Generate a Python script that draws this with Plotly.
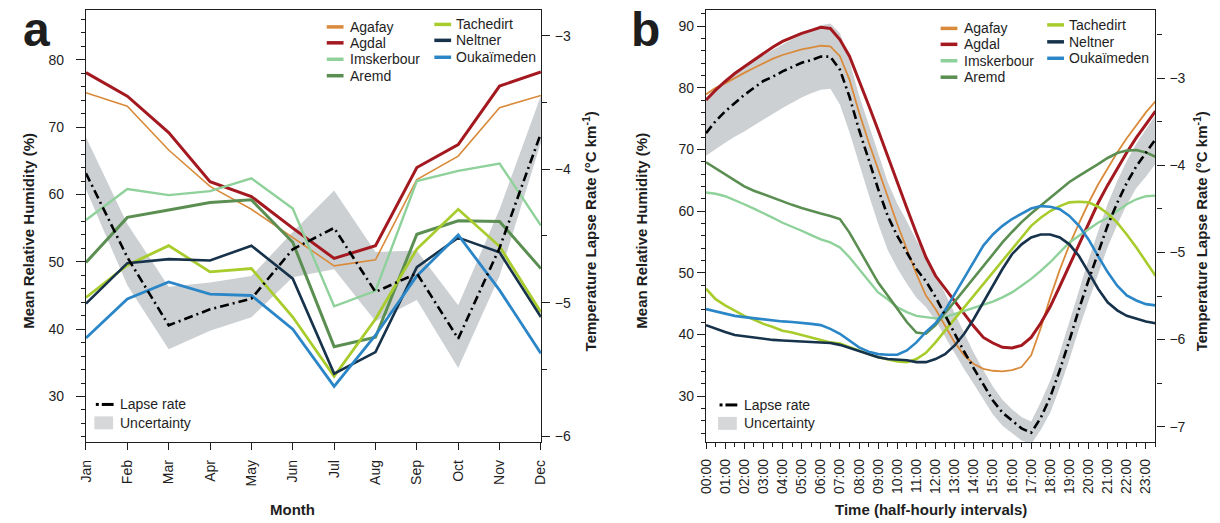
import plotly.graph_objects as go

W, H = 1220, 523

# ---------------- panel a: monthly means ----------------
months = ["Jan", "Feb", "Mar", "Apr", "May", "Jun",
          "Jul", "Aug", "Sep", "Oct", "Nov", "Dec"]
month_pos = list(range(12))

agafay_month = [75.1, 73.1, 66.6, 61.2, 57.8, 53.6, 49.4, 50.3, 62.2, 65.7, 72.9, 74.7]
agdal_month = [78.1, 74.6, 69.2, 61.9, 59.7, 55.0, 50.5, 52.4, 64.0, 67.4, 76.1, 78.2]
imskerbour_month = [56.2, 60.8, 59.9, 60.5, 62.4, 57.9, 43.4, 45.7, 62.0, 63.5, 64.6, 55.4]
aremd_month = [49.9, 56.6, 57.7, 58.8, 59.2, 52.9, 37.4, 38.8, 54.1, 56.1, 56.0, 49.0]
tachedirt_month = [44.7, 49.5, 52.4, 48.5, 49.0, 41.8, 33.0, 41.5, 51.9, 57.8, 52.3, 42.5]
neltner_month = [43.8, 49.8, 50.4, 50.2, 52.4, 47.5, 33.4, 36.6, 49.2, 53.6, 51.4, 41.8]
oukaimeden_month = [38.7, 44.5, 47.0, 45.2, 45.0, 40.0, 31.5, 39.1, 47.9, 54.0, 45.8, 36.4]

lapse_month = [-4.03, -4.66, -5.17, -5.05, -4.97, -4.60, -4.44, -4.92, -4.78, -5.27, -4.59, -3.73]
lapse_month_upper = [-3.76, -4.41, -4.88, -4.85, -4.80, -4.47, -4.16, -4.62, -4.61, -5.02, -4.30, -3.45]
lapse_month_lower = [-4.15, -4.87, -5.35, -5.21, -5.11, -4.81, -4.75, -5.14, -4.98, -5.49, -4.80, -3.80]

# ---------------- panel b: half-hourly means ----------------
hours = [i * 0.5 for i in range(48)]
hour_ticks = list(range(24))
hour_labels = ["%02d:00" % h for h in hour_ticks]

agafay_hour = [78.9, 80.0, 80.7, 81.6, 82.4, 83.2, 84.0, 84.7, 85.3, 85.8, 86.2, 86.5,
               86.8, 86.7, 85.1, 81.3, 76.0, 71.2, 66.7, 62.2, 57.9, 53.8, 49.8, 46.3,
               44.1, 41.4, 38.7, 36.6, 35.2, 34.4, 34.1, 34.0, 34.2, 34.7, 36.6, 41.0,
               46.0, 50.5, 54.5, 58.0, 61.3, 64.3, 67.0, 69.5, 71.8, 74.0, 76.0, 77.8]
agdal_hour = [78.0, 79.6, 81.0, 82.3, 83.4, 84.5, 85.6, 86.6, 87.5, 88.2, 88.8, 89.3,
              89.8, 89.6, 87.8, 85.1, 81.3, 77.2, 73.1, 68.8, 64.6, 60.5, 56.4, 52.5,
              49.5, 47.4, 45.3, 43.3, 41.3, 39.5, 38.6, 37.9, 37.8, 38.2, 39.5, 41.8,
              44.5, 47.8, 51.2, 54.6, 58.0, 61.3, 64.2, 66.9, 69.5, 71.9, 74.1, 76.2]
imskerbour_hour = [63.0, 62.8, 62.4, 61.8, 61.1, 60.4, 59.7, 58.9, 58.1, 57.5, 56.8, 56.1,
                   55.4, 54.9, 54.1, 52.5, 50.6, 48.7, 46.8, 45.7, 44.4, 43.6, 43.0, 42.8,
                   42.6, 42.8, 43.3, 43.9, 44.3, 44.8, 45.3, 46.0, 46.8, 47.9, 49.0, 50.3,
                   51.7, 53.3, 54.9, 56.0, 57.0, 58.1, 58.9, 60.0, 61.1, 61.9, 62.4, 62.5]
aremd_hour = [67.9, 66.9, 65.9, 64.9, 64.0, 63.3, 62.7, 62.1, 61.6, 61.0, 60.5, 60.0,
              59.6, 59.2, 58.7, 56.5, 53.8, 51.1, 48.4, 46.3, 44.1, 42.0, 40.3, 40.1,
              41.5, 43.5, 45.3, 47.2, 49.2, 51.1, 53.0, 54.9, 56.6, 58.2, 59.6, 60.9,
              62.2, 63.5, 64.7, 65.7, 66.6, 67.6, 68.6, 69.4, 69.8, 69.9, 69.5, 68.8]
tachedirt_hour = [47.4, 45.7, 44.7, 43.9, 43.0, 42.4, 41.7, 41.2, 40.6, 40.3, 39.9, 39.5,
                  39.2, 38.7, 38.5, 37.9, 37.4, 36.8, 36.3, 35.9, 35.6, 35.5, 36.0, 37.0,
                  38.7, 40.6, 42.5, 44.4, 46.3, 48.2, 50.1, 51.9, 53.8, 55.7, 57.6, 58.9,
                  60.0, 60.8, 61.4, 61.5, 61.4, 60.7, 59.6, 58.1, 56.2, 54.1, 51.7, 49.5]
neltner_hour = [41.5, 40.9, 40.4, 39.9, 39.7, 39.4, 39.2, 39.1, 39.0, 38.9, 38.9, 38.8,
                38.7, 38.6, 38.3, 37.8, 37.2, 36.7, 36.3, 36.0, 35.9, 35.8, 35.5, 35.5,
                36.0, 36.8, 38.2, 40.1, 42.5, 45.2, 47.9, 50.6, 53.0, 54.6, 55.7, 56.2,
                56.2, 55.7, 54.6, 52.7, 50.1, 47.4, 45.2, 43.9, 43.0, 42.5, 42.1, 41.8]
oukaimeden_hour = [44.1, 43.7, 43.3, 43.0, 42.8, 42.6, 42.4, 42.2, 42.1, 42.0, 41.9, 41.7,
                   41.5, 40.9, 40.1, 39.0, 37.9, 37.2, 36.8, 36.7, 36.7, 37.4, 38.7, 40.4,
                   41.8, 43.9, 46.5, 49.2, 51.9, 54.4, 56.2, 57.6, 58.7, 59.6, 60.4, 60.8,
                   60.7, 60.3, 59.2, 57.6, 55.4, 52.7, 50.1, 47.9, 46.3, 45.5, 44.9, 44.7]

lapse_hour = [-3.63, -3.49, -3.38, -3.28, -3.19, -3.11, -3.03, -2.98, -2.92, -2.87, -2.82, -2.79,
              -2.75, -2.75, -2.90, -3.21, -3.59, -3.93, -4.27, -4.58, -4.81, -5.00, -5.19, -5.33,
              -5.51, -5.72, -5.93, -6.14, -6.33, -6.52, -6.70, -6.84, -6.93, -7.02, -7.07, -6.90,
              -6.66, -6.35, -6.01, -5.65, -5.32, -5.00, -4.69, -4.43, -4.20, -4.01, -3.86, -3.70]
lapse_hour_upper = [-3.22, -3.12, -3.03, -2.94, -2.86, -2.79, -2.73, -2.67, -2.61, -2.55, -2.50, -2.44,
                    -2.39, -2.37, -2.48, -2.80, -3.19, -3.53, -3.87, -4.19, -4.44, -4.64, -4.86, -5.03,
                    -5.24, -5.47, -5.71, -5.94, -6.15, -6.35, -6.54, -6.69, -6.80, -6.89, -6.94, -6.72,
                    -6.47, -6.15, -5.79, -5.42, -5.08, -4.76, -4.44, -4.18, -3.95, -3.75, -3.59, -3.42]
lapse_hour_lower = [-3.89, -3.81, -3.74, -3.67, -3.61, -3.54, -3.47, -3.40, -3.34, -3.28, -3.22, -3.17,
                    -3.13, -3.12, -3.30, -3.62, -3.99, -4.33, -4.67, -4.97, -5.18, -5.36, -5.52, -5.63,
                    -5.78, -5.97, -6.15, -6.34, -6.51, -6.69, -6.86, -6.99, -7.08, -7.16, -7.20, -7.04,
                    -6.84, -6.55, -6.23, -5.88, -5.56, -5.24, -4.94, -4.68, -4.45, -4.26, -4.13, -3.98]

# ---------------- styling ----------------
FONT = "Liberation Sans, Arial, Helvetica, sans-serif"
INK = "#1e1e1e"
BAND = "#CDD0D3"
LAPSE_DASH = "9px,4px,2px,4px"

station_names = ["Agafay", "Agdal", "Imskerbour", "Aremd", "Tachedirt", "Neltner", "Oukaïmeden"]
station_colors = ["#D98B3B", "#A3191F", "#8FD19A", "#5B8F52", "#A7CC2C", "#17324B", "#2B86C7"]
month_widths = [1.6, 3.0, 2.4, 3.0, 2.8, 2.6, 2.8]
hour_widths = [1.8, 3.0, 2.4, 2.6, 2.6, 2.6, 2.6]

month_series = [agafay_month, agdal_month, imskerbour_month, aremd_month,
                tachedirt_month, neltner_month, oukaimeden_month]
hour_series = [agafay_hour, agdal_hour, imskerbour_hour, aremd_hour,
               tachedirt_hour, neltner_hour, oukaimeden_hour]

fig = go.Figure()


def add_panel(x, series, widths, lapse, upper, lower, xa, y_band, y_rh, y_line):
    # uncertainty band on the lapse-rate base axis (drawn first, underneath)
    fig.add_trace(go.Scatter(x=x, y=lower, xaxis=xa, yaxis=y_band, mode="lines",
                             line=dict(width=0, color=BAND), showlegend=False,
                             hoverinfo="skip"))
    fig.add_trace(go.Scatter(x=x, y=upper, xaxis=xa, yaxis=y_band, mode="lines",
                             line=dict(width=0, color=BAND), fill="tonexty",
                             fillcolor=BAND, showlegend=False, hoverinfo="skip"))
    # station humidity curves
    for name, col, wd, vals in zip(station_names, station_colors, widths, series):
        fig.add_trace(go.Scatter(x=x, y=vals, xaxis=xa, yaxis=y_rh, mode="lines",
                                 name=name, line=dict(color=col, width=wd),
                                 showlegend=False))
    # lapse rate on top
    fig.add_trace(go.Scatter(x=x, y=lapse, xaxis=xa, yaxis=y_line, mode="lines",
                             name="Lapse rate",
                             line=dict(color="black", width=2.6, dash=LAPSE_DASH),
                             showlegend=False))


add_panel(month_pos, month_series, month_widths, lapse_month,
          lapse_month_upper, lapse_month_lower, "x", "y", "y2", "y3")
add_panel(hours, hour_series, hour_widths, lapse_hour,
          lapse_hour_upper, lapse_hour_lower, "x2", "y4", "y5", "y6")


def px(x):
    return x / W


def py(y):
    return 1 - y / H


ydom = [py(444), py(10)]
xdom_a = [px(79), px(540)]
xdom_b = [px(707.3), px(1162.7)]

tickfont = dict(family=FONT, size=14, color=INK)
axis_common = dict(showgrid=False, zeroline=False, showline=True, linecolor=INK,
                   linewidth=1.3, ticks="outside", tickcolor=INK, tickwidth=1.2,
                   tickfont=tickfont)

range_rh_a = [23.2, 87.4]
range_lr_a = [-6.047, -2.806]
range_rh_b = [22.5, 92.6]
range_lr_b = [-7.18, -2.214]

fig.update_layout(
    width=W, height=H, autosize=False,
    margin=dict(l=0, r=0, t=0, b=0),
    paper_bgcolor="white", plot_bgcolor="white",
    font=dict(family=FONT, color=INK),
    showlegend=False,
    xaxis=dict(domain=xdom_a, anchor="y", range=[0, 11], tickmode="array",
               tickvals=month_pos, ticktext=months, tickangle=-90, ticklen=7,
               ticklabelstandoff=4, mirror=True, **axis_common),
    yaxis=dict(domain=ydom, anchor="x", side="right", range=range_lr_a,
               tickmode="array", tickvals=[-6, -5, -4, -3], ticklen=8,
               ticklabelstandoff=2,
               minor=dict(dtick=0.5, ticklen=5, ticks="outside", tickcolor=INK),
               **axis_common),
    yaxis2=dict(overlaying="y", anchor="x", side="left", range=range_rh_a,
                tickmode="array", tickvals=[30, 40, 50, 60, 70, 80], ticklen=9,
                ticklabelstandoff=9,
                minor=dict(dtick=2, ticklen=4, ticks="outside", tickcolor=INK),
                **axis_common),
    yaxis3=dict(overlaying="y", anchor="x", range=range_lr_a, visible=False),
    xaxis2=dict(domain=xdom_b, anchor="y4", range=[0, 23.5], tickmode="array",
                tickvals=hour_ticks, ticktext=hour_labels, tickangle=-90, ticklen=6,
                ticklabelstandoff=4, mirror=True,
                minor=dict(dtick=0.5, ticklen=4, ticks="outside", tickcolor=INK),
                **axis_common),
    yaxis4=dict(domain=ydom, anchor="x2", side="right", range=range_lr_b,
                tickmode="array", tickvals=[-7, -6, -5, -4, -3], ticklen=8,
                ticklabelstandoff=2,
                minor=dict(dtick=0.5, ticklen=5, ticks="outside", tickcolor=INK),
                **axis_common),
    yaxis5=dict(overlaying="y4", anchor="x2", side="left", range=range_rh_b,
                tickmode="array", tickvals=[30, 40, 50, 60, 70, 80, 90], ticklen=8,
                ticklabelstandoff=0,
                minor=dict(dtick=2, ticklen=4, ticks="outside", tickcolor=INK),
                **axis_common),
    yaxis6=dict(overlaying="y4", anchor="x2", range=range_lr_b, visible=False),
)

annotations = []
shapes = []


def text(x, y, s, size=14, bold=False, angle=0, anchor="left"):
    if bold:
        s = "<b>" + s + "</b>"
    annotations.append(dict(x=px(x), y=py(y), xref="paper", yref="paper", text=s,
                            showarrow=False, xanchor=anchor, yanchor="middle",
                            textangle=angle,
                            font=dict(family=FONT, size=size, color=INK)))


# panel letters
text(29, 30, "a", size=48, bold=True, anchor="center")
text(646, 30, "b", size=48, bold=True, anchor="center")

# axis titles
text(288, 511, "Month", size=15, bold=True, anchor="center")
text(935, 511, "Time (half-hourly intervals)", size=15, bold=True, anchor="center")
ylab = "Mean Relative Humidity (%)"
rlab = "Temperature Lapse Rate (°C km<sup>-1</sup>)"
text(20, 232, ylab, size=15, bold=True, angle=-90, anchor="center")
text(642, 232, ylab, size=15, bold=True, angle=-90, anchor="center")
text(589, 232, rlab, size=15, bold=True, angle=-90, anchor="center")
text(1208, 232, rlab, size=15, bold=True, angle=-90, anchor="center")


def station_key(x_line, x_text, rows):
    for (name, y) in rows:
        col = station_colors[station_names.index(name)]
        shapes.append(dict(type="line", xref="paper", yref="paper",
                           x0=px(x_line), x1=px(x_line + 17), y0=py(y), y1=py(y),
                           line=dict(color=col, width=3.5)))
        text(x_text, y, name)


station_key(323, 345, [("Agafay", 27), ("Agdal", 43), ("Imskerbour", 59.5), ("Aremd", 76)])
station_key(432, 452, [("Tachedirt", 24.5), ("Neltner", 40.5), ("Oukaïmeden", 57.5)])
station_key(945, 967, [("Agafay", 28.5), ("Agdal", 44.5), ("Imskerbour", 61), ("Aremd", 77.5)])
station_key(1053, 1073, [("Tachedirt", 25), ("Neltner", 42), ("Oukaïmeden", 58.5)])


def lapse_key(x0, y_line, y_box, x_text):
    shapes.append(dict(type="line", xref="paper", yref="paper",
                       x0=px(x0), x1=px(x0 + 3), y0=py(y_line), y1=py(y_line),
                       line=dict(color="black", width=3)))
    shapes.append(dict(type="line", xref="paper", yref="paper",
                       x0=px(x0 + 6), x1=px(x0 + 18), y0=py(y_line), y1=py(y_line),
                       line=dict(color="black", width=3)))
    shapes.append(dict(type="rect", xref="paper", yref="paper",
                       x0=px(x0 - 1.5), x1=px(x0 + 17.5), y0=py(y_box + 6.5),
                       y1=py(y_box - 6.5), line=dict(width=0), fillcolor="#D6D7D8"))
    text(x_text, y_line, "Lapse rate")
    text(x_text, y_box, "Uncertainty")


lapse_key(89, 406, 424.5, 111)
lapse_key(721, 406.5, 425, 744)

fig.update_layout(annotations=annotations, shapes=shapes)

fig.write_html("out.html")
